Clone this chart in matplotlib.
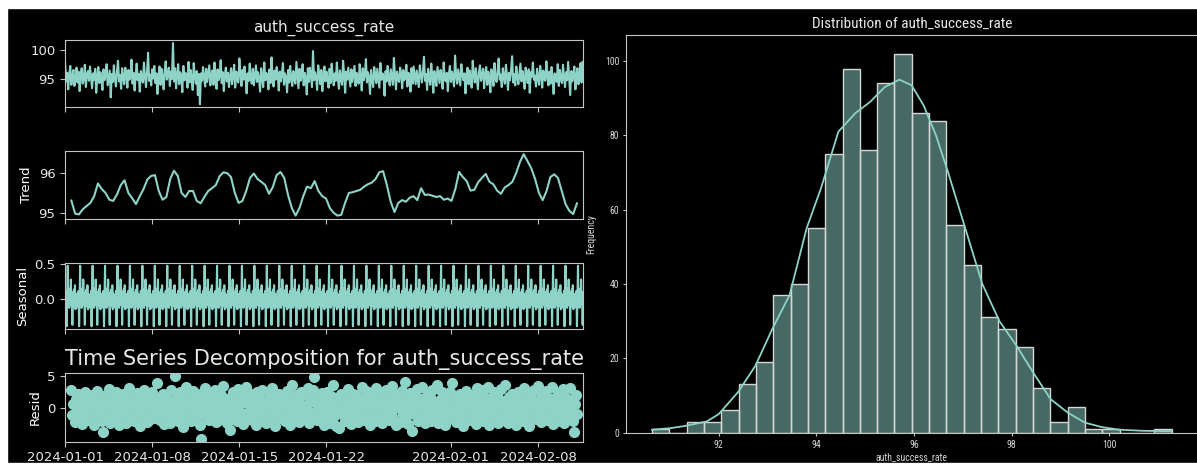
import numpy as np
import pandas as pd
import matplotlib
matplotlib.use("Agg")
import matplotlib.pyplot as plt
import matplotlib.dates as mdates
from matplotlib.patches import Rectangle
from matplotlib import font_manager

# ---------------- data ----------------
series_name = "auth_success_rate"

# observed values, every 2 hours from 2024-01-01 00:00
observed = [
    97.8, 94.6, 96.1, 93.2, 95.9, 97.3, 94.0, 95.4, 96.6, 93.8, 95.1, 97.0, 94.4, 96.3, 92.9, 95.7, 96.9, 94.2, 95.0, 97.5,
    93.6, 95.8, 96.4, 94.7, 97.2, 95.3, 93.4, 96.0, 94.9, 96.8, 92.6, 95.5, 97.1, 94.3, 96.2, 95.0, 93.1, 96.7, 94.8, 95.6,
    97.6, 93.9, 95.2, 96.5, 91.8, 95.9, 94.5, 97.4, 95.1, 93.7, 96.3, 98.2, 94.6, 95.7, 93.3, 96.9, 95.4, 94.1, 97.0, 95.8,
    93.5, 96.6, 94.9, 95.3, 98.4, 94.2, 96.1, 93.0, 95.6, 97.7, 94.8, 95.9, 92.8, 96.4, 95.2, 94.4, 97.9, 95.5, 93.6, 96.2,
    99.6, 94.7, 95.8, 93.9, 96.7, 95.1, 97.3, 94.3, 96.0, 92.4, 95.4, 97.2, 94.0, 96.8, 95.3, 93.2, 96.5, 98.1, 94.9, 95.7,
    97.0, 93.8, 96.3, 95.0, 101.3, 94.6, 96.9, 93.4, 95.8, 97.6, 94.1, 96.2, 95.5, 92.7, 97.3, 94.8, 96.1, 95.2, 93.5, 98.0,
    94.4, 96.6, 95.1, 93.1, 97.8, 95.6, 94.2, 96.4, 92.2, 95.9, 90.6, 96.0, 94.7, 97.1, 95.3, 93.7, 96.8, 94.5, 95.9, 97.4,
    93.9, 95.7, 96.5, 94.0, 97.9, 95.2, 93.3, 96.7, 94.8, 95.5, 98.3, 94.3, 96.2, 92.9, 95.8, 97.0, 94.6, 96.1, 93.6, 95.4,
    96.9, 94.1, 95.6, 97.5, 93.5, 96.3, 95.0, 94.4, 98.6, 95.9, 93.8, 96.6, 94.9, 97.2, 95.3, 92.5, 96.0, 94.7, 97.7, 95.1,
    94.2, 96.8, 93.9, 95.7, 97.4, 94.5, 96.2, 95.0, 92.8, 96.9, 95.4, 93.6, 97.9, 94.8, 96.1, 95.5, 93.2, 96.7, 94.3, 98.8,
    95.2, 93.7, 96.5, 94.9, 97.1, 95.8, 93.0, 96.3, 94.6, 95.9, 97.8, 94.0, 96.0, 95.3, 92.7, 96.6, 94.4, 97.3, 95.1, 93.8,
    96.4, 95.0, 94.2, 98.0, 95.6, 93.4, 96.8, 94.7, 95.5, 97.6, 93.9, 96.1, 95.2, 92.3, 96.9, 94.5, 97.0, 95.7, 93.6, 99.9,
    94.8, 96.2, 95.3, 93.1, 97.4, 95.9, 94.1, 96.6, 92.9, 95.4, 97.2, 94.6, 96.3, 95.0, 93.5, 96.8, 94.3, 97.7, 95.6, 93.9,
    96.0, 94.7, 97.9, 95.2, 93.3, 96.5, 95.1, 94.0, 98.2, 95.8, 92.6, 96.3, 94.9, 97.0, 95.4, 93.7, 96.7, 94.5, 95.9, 97.3,
    93.8, 96.1, 95.0, 94.2, 97.6, 95.5, 93.0, 96.9, 94.8, 95.7, 98.5, 94.4, 96.2, 95.3, 92.4, 96.6, 95.0, 93.6, 97.1, 95.8,
    94.3, 96.8, 95.2, 93.5, 97.8, 94.9, 96.0, 95.6, 92.1, 96.4, 94.6, 97.3, 95.1, 93.9, 96.7, 95.4, 94.0, 98.7, 95.7, 93.2,
    96.3, 95.0, 94.5, 97.0, 95.9, 93.4, 96.6, 94.8, 95.3, 97.5, 93.7, 96.1, 95.5, 92.8, 96.9, 94.2, 97.2, 95.6, 94.1, 96.5,
    95.1, 93.6, 97.4, 95.8, 94.4, 96.2, 98.9, 94.7, 95.9, 93.1, 96.8, 95.2, 94.0, 97.7, 95.5, 92.6, 96.4, 95.0, 93.8, 97.1,
    95.7, 94.3, 96.6, 95.4, 93.3, 97.9, 95.0, 94.6, 96.1, 92.9, 95.8, 97.3, 94.5, 96.3, 95.2, 93.7, 99.1, 95.6, 94.2, 96.7,
    95.3, 93.9, 97.6, 95.9, 94.8, 96.0, 92.5, 95.5, 97.0, 94.1, 96.5, 95.1, 93.5, 98.2, 95.8, 94.4, 96.9, 95.0, 93.2, 96.2,
    97.4, 94.7, 95.6, 96.8, 93.4, 95.9, 97.1, 94.0, 96.3, 95.2, 92.7, 96.7, 95.4, 93.8, 97.8, 95.0, 94.5, 96.4, 98.6, 94.9,
    95.8, 93.6, 96.9, 95.3, 94.2, 97.5, 95.7, 93.1, 96.1, 94.8, 96.6, 99.0, 94.4, 95.9, 93.9, 97.2, 95.5, 94.1, 96.0, 97.7,
    94.6, 96.4, 95.1, 93.3, 97.0, 95.8, 94.3, 96.7, 92.6, 96.2, 95.4, 97.9, 94.9, 95.6, 93.7, 96.8, 95.2, 94.0, 97.3, 95.9,
    93.5, 96.5, 95.0, 94.7, 98.1, 95.6, 93.9, 96.3, 94.2, 97.1, 95.3, 92.4, 96.0, 95.7, 94.5, 97.6, 93.8, 96.6, 95.1, 94.3,
    97.5, 95.4, 93.6, 96.2, 94.8, 98.0, 95.0, 92.2, 96.4, 94.6, 95.8, 97.2, 93.2, 95.5, 96.9, 94.1, 95.3, 97.8, 94.4, 98.0,
]

# trend (24h moving average), 2024-01-01 12:00 .. 2024-02-11 03:00
trend = [
    95.31, 94.98, 94.96, 95.09, 95.17, 95.25, 95.42, 95.74, 95.60, 95.50,
    95.33, 95.30, 95.46, 95.70, 95.82, 95.50, 95.37, 95.22, 95.42, 95.60,
    95.84, 95.93, 95.95, 95.55, 95.33, 95.40, 95.85, 96.06, 95.93, 95.50,
    95.40, 95.55, 95.55, 95.30, 95.24, 95.40, 95.55, 95.62, 95.70, 95.92,
    96.02, 96.00, 95.90, 95.50, 95.25, 95.30, 95.55, 95.88, 95.99, 95.85,
    95.78, 95.70, 95.48, 95.65, 95.95, 96.03, 95.88, 95.45, 95.12, 94.93,
    95.12, 95.42, 95.66, 95.62, 95.80, 95.55, 95.42, 95.36, 95.12, 95.00,
    94.93, 94.95, 95.25, 95.50, 95.52, 95.55, 95.58, 95.66, 95.72, 95.76,
    95.85, 96.02, 96.05, 95.70, 95.28, 95.02, 95.25, 95.32, 95.28, 95.38,
    95.42, 95.32, 95.62, 95.45, 95.46, 95.43, 95.40, 95.42, 95.33, 95.36,
    95.30, 95.60, 96.03, 95.90, 95.80, 95.56, 95.58, 95.77, 95.88, 95.98,
    95.78, 95.72, 95.56, 95.48, 95.64, 95.70, 95.78, 96.00, 96.28, 96.48,
    96.30, 96.12, 95.85, 95.50, 95.32, 95.55, 95.90, 95.97, 95.88, 95.55,
    95.22, 95.05, 94.97, 95.24,
]

# one day of the seasonal component (hour 0..23)
seasonal_day = [0.05, -0.10, 0.12, -0.38, 0.08, 0.475, -0.06, 0.10, -0.12, 0.15, -0.05, 0.28,
                -0.08, 0.06, -0.36, 0.10, -0.10, 0.14, -0.04, 0.20, -0.14, 0.08, -0.12, 0.02]

# residuals, 2024-01-01 12:00 .. 2024-02-11 03:00
resid = [
    2.8, -1.2, 0.6, -2.3, 1.4, -0.5, 2.1, -1.8, 0.3, 1.7, -2.6, 0.9, -0.7, 2.4, -1.5, 0.1, 1.2, -2.0, 0.8, -0.3,
    1.9, -2.7, 0.4, -1.1, 2.6, -0.2, 1.0, -1.6, 0.7, -2.2, -3.9, 1.5, -0.9, 2.0, -1.3, 0.5, 2.9, -2.4, 0.2, -0.8,
    1.3, -1.9, 2.5, -0.4, 0.9, -2.8, 1.6, -1.0, 0.0, 2.2, -1.4, 0.6, -2.5, 1.8, -0.6, 3.1, -1.7, 0.4, 1.1, -2.1,
    0.7, -0.3, 2.3, -1.5, 1.0, -2.9, 0.5, 1.9, -1.1, 2.7, -0.8, 0.3, -2.3, 1.4, -1.9, 0.8, 2.4, -0.5, 1.2, -1.6,
    0.2, 3.8, -1.3, 0.6, -2.0, 1.7, -0.7, 2.1, -2.6, 0.9, 1.5, -1.0, 0.4, -2.4, 2.8, -0.1, 1.1, -1.8, 4.9, -0.6,
    1.6, -2.2, 0.3, 2.5, -1.4, 0.8, -3.0, 1.9, -0.2, 3.2, -1.7, 0.5, 1.3, -2.1, 0.0, 2.6, -0.9, 1.0, -1.5, 2.2,
    -0.4, 1.4, -2.7, -4.9, 0.7, 1.8, -1.2, 3.0, -0.6, 0.9, -2.0, 2.3, -1.6, 0.4, 1.5, -0.8, 2.7, -2.3, 0.1, 1.1,
    -1.9, 0.6, 2.0, -1.0, 3.4, -0.3, 1.2, -2.5, 0.8, -1.4, -3.5, 1.7, -0.5, 2.4, -1.8, 0.3, 1.0, -2.2, 2.9, -0.7,
    0.5, -1.3, 1.9, -2.6, 0.9, 3.3, -0.9, 1.4, -1.7, 0.2, 2.1, -2.0, 0.6, -0.4, 1.6, -2.8, 2.5, -1.1, 0.7, 1.3,
    -1.5, 2.8, -0.2, 0.8, -2.4, 1.1, -0.6, 2.3, -1.9, 0.4, 3.0, -1.2, 1.5, -2.9, 0.0, 1.8, -0.8, 2.2, -1.6, 0.9,
    -0.3, 1.7, -2.1, 0.5, 2.6, -1.4, 0.2, -2.7, 1.3, 3.5, -0.9, 0.7, -1.8, 2.0, -0.5, 1.2, -2.3, 0.6, 2.4, -1.0,
    0.3, -1.7, 1.9, -0.4, 3.1, -2.5, 0.8, 1.4, -1.2, 2.7, 4.8, -0.7, 1.0, -2.0, 0.4, 1.6, -1.5, 2.3, -0.1, -2.8,
    1.2, -0.9, 2.5, -1.6, 0.6, -2.4, 1.8, -0.2, 3.6, -1.3, 0.9, -2.9, 1.5, -0.6, -3.3, 2.1, -1.1, 0.4, 1.7, -2.2,
    0.8, -0.5, 2.9, -1.8, 1.1, -2.6, 0.3, 2.2, -1.4, 0.7, 1.9, -0.8, -2.3, 1.4, 0.0, 3.3, -1.9, 0.5, -1.0, 2.6,
    -1.5, 0.9, 1.6, -2.7, 0.2, 2.4, -0.7, 1.2, -2.1, 3.0, -0.3, 1.0, -1.6, 2.0, -2.5, 0.6, 1.8, -1.2, 2.7, -0.4,
    0.7, -2.0, 1.3, -0.9, 3.4, -1.7, 0.4, 2.1, -2.8, 0.9, -0.1, 1.5, -2.3, 2.6, -1.0, 0.3, 4.0, -1.4, 1.1, -2.6,
    0.5, 2.3, -0.6, -3.7, 1.7, -1.1, 0.8, 2.9, -2.2, 0.1, 1.4, -1.8, 3.2, -0.4, 1.0, -2.5, 0.6, 2.0, -1.3, 0.2,
    1.6, -2.1, 2.8, -0.7, 0.9, -1.5, 3.6, -2.4, 0.3, 1.2, -0.9, 2.4, -1.9, 0.6, -2.7, 1.8, -0.2, 1.1, -1.6, 2.5,
    -0.5, 3.9, -1.2, 0.7, -2.3, 1.4, 0.0, -1.8, 2.2, -0.8, 1.0, -2.9, 1.7, -0.3, 2.6, -1.4, 0.5, 1.9, -2.0, 0.8,
    -1.1, 2.0, 0.4, -2.6, 3.1, -0.6, 1.3, -1.7, 0.2, 2.7, -2.2, 0.9, -0.4, 1.5, -1.3, 3.3, -2.8, 0.6, 1.2, -0.9,
    2.4, -1.5, 0.1, 1.8, -2.4, 0.7, -0.2, 2.9, -1.9, 1.0, -0.7, 3.5, -1.1, 0.5, -2.5, 1.6, -0.8, 2.2, -1.4, 0.3,
    1.3, -2.7, 0.8, 2.5, -0.5, -1.9, 1.1, 0.4, -2.2, 3.0, -1.0, 1.7, -0.6, 2.1, -2.9, 0.6, 1.4, -1.6, 2.8, -0.3,
    -1.8, 0.9, 3.4, -1.2, 0.2, -2.3, 1.9, -0.7, 1.0, -1.5, 2.6, -2.0, 0.5, 1.3, -0.9, 3.2, -2.6, 0.8, -0.4, 1.7,
    -2.1, 0.4, 2.3, -1.3, 1.1, -0.6, 2.9, -2.4, 0.7, 1.5, -1.7, 0.0, 3.1, -0.8, 1.2, -2.2, -3.9, 0.6, 2.0, -1.0,
]

# histogram of auth_success_rate (30 bins between min and max)
hist_min, hist_max = 90.63, 101.28
hist_counts = [1, 0, 3, 3, 6, 13, 19, 37, 40, 55, 75, 98, 76, 94, 102,
               86, 84, 56, 45, 31, 28, 23, 12, 3, 7, 1, 1, 0, 0, 1]

# kde curve (scaled to counts)
kde_x = [90.63, 91.0, 91.3, 91.75, 92.0, 92.4, 92.75, 93.1, 93.45, 93.8, 94.1, 94.45, 94.8,
         95.1, 95.4, 95.7, 95.95, 96.2, 96.45, 96.7, 97.05, 97.4, 97.75, 98.1, 98.45,
         98.8, 99.15, 99.5, 99.85, 100.2, 100.7, 101.28]
kde_y = [0.8, 1.2, 1.8, 3.0, 5.0, 11, 18, 28, 37, 55, 66, 81, 86,
         89, 93, 95, 93.5, 88, 80, 70, 55, 40, 30, 23.4, 16,
         9, 5.4, 2.7, 1.5, 0.8, 0.5, 0.4]

# ---------------- plot ----------------
plt.style.use("dark_background")
teal = "#8dd3c7"
spine_col = "#c4c4c4"

# narrow font for the histogram panel, whichever is installed
installed = {(f.name, f.stretch) for f in font_manager.fontManager.ttflist}
names = {n for n, _ in installed}
narrow = dict(family="Roboto")
for cand in ["Liberation Sans Narrow", "Roboto Condensed", "Open Sans Condensed"]:
    if cand in names:
        narrow = dict(family=cand)
        break
else:
    if any(n == "DejaVu Sans" and s == "condensed" for n, s in installed):
        narrow = dict(family="DejaVu Sans", stretch="condensed")

fig = plt.figure(figsize=(11.97, 4.70), dpi=100)

obs_t = pd.date_range("2024-01-01 00:00", periods=len(observed), freq="2h")
trend_t = pd.date_range("2024-01-01 12:00", "2024-02-11 03:00", periods=len(trend))
resid_t = pd.date_range("2024-01-01 12:00", "2024-02-11 03:00", periods=len(resid))
hours = pd.date_range("2024-01-01 00:00", periods=1000, freq="h")
seasonal = np.tile(seasonal_day, 42)[:len(hours)]

left, width = 0.0544, 0.4328
ax1 = fig.add_axes([left, 0.7717, width, 0.1432])
ax2 = fig.add_axes([left, 0.5347, width, 0.1440], sharex=ax1)
ax3 = fig.add_axes([left, 0.2994, width, 0.1417], sharex=ax1)
ax4 = fig.add_axes([left, 0.0602, width, 0.1455], sharex=ax1)

ax1.plot(obs_t, observed, color=teal, lw=1.5)
ax1.set_title(series_name, fontsize=11, color="#e8e8e8")
ax1.set_yticks([95, 100])

ax2.plot(trend_t, trend, color=teal, lw=1.5)
ax2.set_ylabel("Trend", fontsize=9.5)
ax2.set_yticks([95, 96])

ax3.plot(hours, seasonal, color=teal, lw=1.5)
ax3.set_ylabel("Seasonal", fontsize=9.5)
ax3.set_yticks([0.0, 0.5])
ax3.set_yticklabels(["0.0", "0.5"])

ax4.plot(resid_t, resid, marker="o", linestyle="none", color=teal, markersize=7)
ax4.set_ylabel("Resid", fontsize=9.5)
ax4.set_yticks([0, 5])
ax4.set_title("Time Series Decomposition for " + series_name, fontsize=15, color="#e8e8e8")

ax1.set_xlim(hours[0], hours[-1])
ax4.xaxis.set_major_locator(mdates.DayLocator(bymonthday=[1, 8, 15, 22]))
ax4.xaxis.set_major_formatter(mdates.DateFormatter("%Y-%m-%d"))

for ax in [ax1, ax2, ax3, ax4]:
    for s in ax.spines.values():
        s.set_color(spine_col)
    ax.tick_params(colors=spine_col, labelcolor="#e8e8e8", labelsize=9.5)
    if ax is not ax4:
        plt.setp(ax.get_xticklabels(), visible=False)

# histogram panel
edges = np.linspace(hist_min, hist_max, len(hist_counts) + 1)
axh = fig.add_axes([0.523, 0.0794, 0.4775, 0.8468])
axh.bar(edges[:-1], hist_counts, width=np.diff(edges), align="edge",
        facecolor=(0x8d / 255, 0xd3 / 255, 0xc7 / 255, 0.5), edgecolor="#d6d6d6", linewidth=1)
axh.plot(kde_x, kde_y, color=teal, lw=1.3)
axh.set_xlim(90.10, 101.81)
axh.set_ylim(0, 107.1)
axh.set_xticks([92, 94, 96, 98, 100])
axh.set_yticks([0, 20, 40, 60, 80, 100])
axh.set_title("Distribution of " + series_name, fontsize=11, color="#e8e8e8", pad=5, **narrow)
axh.set_xlabel(series_name, fontsize=7, color="#d8d8d8", labelpad=1.5, **narrow)
axh.set_ylabel("Frequency", fontsize=7, color="#d8d8d8", labelpad=6, **narrow)
axh.spines["right"].set_visible(False)
for s in ["top", "left", "bottom"]:
    axh.spines[s].set_color(spine_col)
axh.tick_params(colors=spine_col, labelcolor="#d8d8d8", labelsize=7, length=2.5, pad=2.5)
for lab in axh.get_xticklabels() + axh.get_yticklabels():
    lab.set_fontfamily(narrow["family"])
    if "stretch" in narrow:
        lab.set_fontstretch(narrow["stretch"])

# white screenshot border
fig.add_artist(Rectangle((0, 0.984), 1, 0.016, transform=fig.transFigure, color="white", zorder=10))
fig.add_artist(Rectangle((0, 0), 0.0061, 1, transform=fig.transFigure, color="white", zorder=10))
fig.add_artist(Rectangle((0, 0), 1, 0.0149, transform=fig.transFigure, color="white", zorder=10))

fig.savefig("out.png", dpi=100)
